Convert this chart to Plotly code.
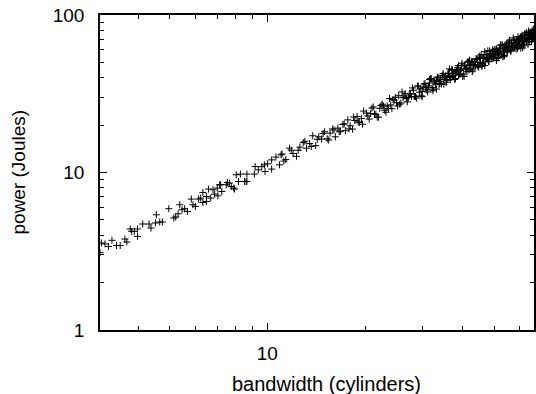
import math
import plotly.graph_objects as go

# ---- data ----
# sparse low-bandwidth points
x_low = [3.05, 3.08, 3.16, 3.24, 3.32, 3.43, 3.52, 3.64, 3.69, 3.78, 3.82, 3.89, 3.98, 3.98,
         4.13, 4.32, 4.38, 4.52, 4.55, 4.66, 4.75, 4.97, 5.15, 5.22, 5.31, 5.37, 5.46, 5.56,
         5.67, 5.83, 5.90]
y_low = [3.10, 3.57, 3.52, 3.39, 3.71, 3.44, 3.44, 3.78, 3.62, 4.38, 4.23, 4.23, 4.38, 3.93,
         4.71, 4.71, 4.44, 4.78, 5.39, 4.85, 4.85, 5.89, 5.14, 5.22, 5.47, 6.24, 5.80, 5.89,
         5.66, 6.78, 6.24]

# mid-range points
x_mid = [6.00, 6.14, 6.23, 6.33, 6.33, 6.49, 6.49, 6.59, 6.69, 6.80, 6.88, 7.01, 7.04, 7.13,
         7.18, 7.24, 7.47, 7.53, 7.64, 7.74, 7.88, 7.92, 8.02, 8.15, 8.26, 8.50, 8.60, 8.65,
         8.65, 9.12, 9.17, 9.38, 9.61, 9.79, 9.84, 10.02, 10.31, 10.31, 10.63, 10.90, 11.02]
y_mid = [6.09, 6.78, 6.88, 7.47, 6.45, 6.55, 7.04, 7.85, 6.88, 7.77, 7.29, 7.96, 7.11, 8.36,
         8.36, 7.58, 8.36, 8.64, 8.57, 8.15, 7.96, 7.85, 9.67, 8.77, 9.77, 8.77, 8.77, 8.77,
         9.77, 9.77, 10.90, 10.40, 10.90, 11.19, 10.15, 11.36, 10.51, 12.03, 12.52, 11.19, 12.95]

# 11 - 20 cylinders
x_a = [11.1, 11.4, 11.7, 12.0, 12.3, 12.6, 12.9, 13.2, 13.5, 13.8, 14.1, 14.4, 14.7, 15.0, 15.3,
       15.6, 15.9, 16.2, 16.5, 16.8, 17.1, 17.4, 17.7, 18.0, 18.3, 18.6, 18.9, 19.2, 19.5, 19.8,
       11.25, 11.85, 12.45, 13.05, 13.65, 14.25, 14.85, 15.45, 16.05, 16.65, 17.25, 17.85,
       18.45, 19.05, 19.65]
y_a = [13.10, 12.08, 14.27, 13.20, 12.67, 14.49, 15.48, 14.26, 15.26, 17.11, 14.81, 16.85,
       16.32, 18.15, 16.37, 17.78, 18.92, 16.85, 19.14, 18.31, 20.18, 18.44, 21.59, 19.80,
       18.85, 21.39, 22.68, 20.74, 22.04, 24.55,
       11.81, 13.86, 13.82, 15.79, 14.61, 16.25, 17.67, 16.07, 18.62, 18.15, 20.36, 18.92,
       22.51, 20.96, 20.24]

# 20 - 68 cylinders (dense band)
x_b = [20.2, 20.6, 21.0, 21.4, 21.8, 22.2, 22.6, 23.0, 23.4, 23.8, 24.2, 24.6, 25.0, 25.4, 25.8,
       26.2, 26.6, 27.0, 27.4, 27.8, 28.2, 28.6, 29.0, 29.4, 29.8, 30.2, 30.6, 31.0, 31.4, 31.8,
       32.2, 32.6, 33.0, 33.4, 33.8, 34.2, 34.6, 35.0, 35.4, 35.8, 36.2, 36.6, 37.0, 37.4, 37.8,
       38.2, 38.6, 39.0, 39.4, 39.8, 40.2, 40.6, 41.0, 41.4, 41.8, 42.2, 42.6, 43.0, 43.4, 43.8,
       44.2, 44.6, 45.0, 45.4, 45.8, 46.2, 46.6, 47.0, 47.4, 47.8, 48.2, 48.6, 49.0, 49.4, 49.8,
       50.2, 50.6, 51.0, 51.4, 51.8, 52.2, 52.6, 53.0, 53.4, 53.8, 54.2, 54.6, 55.0, 55.4, 55.8,
       56.2, 56.6, 57.0, 57.4, 57.8, 58.2, 58.6, 59.0, 59.4, 59.8, 60.2, 60.6, 61.0, 61.4, 61.8,
       62.2, 62.6, 63.0, 63.4, 63.8, 64.2, 64.6, 65.0, 65.4, 65.8, 66.2, 66.6, 67.0, 67.4, 67.8]
y_b = [23.84, 21.84, 25.62, 23.54, 22.45, 25.53, 27.12, 24.84, 26.44, 29.51, 25.41, 28.78,
       27.75, 30.73, 27.61, 29.87, 31.65, 28.08, 31.78, 30.30, 33.28, 30.32, 35.38, 32.34,
       30.69, 34.73, 36.72, 33.48, 35.48, 39.43, 33.81, 38.14, 36.63, 40.41, 36.17, 38.99,
       41.17, 36.40, 41.06, 39.02, 42.72, 38.80, 45.14, 41.14, 38.93, 43.93, 46.32, 42.12,
       44.52, 49.35, 42.21, 47.50, 45.51, 50.09, 44.73, 48.11, 50.69, 44.72, 50.34, 47.74,
       52.16, 47.28, 54.90, 49.94, 47.17, 53.13, 55.92, 50.76, 53.56, 59.27, 50.61, 56.86,
       54.39, 59.77, 53.29, 57.23, 60.21, 53.04, 59.62, 56.46, 61.60, 55.76, 64.66, 58.74,
       55.41, 62.33, 65.52, 59.40, 62.60, 69.19, 59.01, 66.22, 63.27, 69.45, 61.85, 66.35,
       69.73, 61.36, 68.90, 65.18, 71.04, 64.24, 74.42, 67.54, 63.65, 71.53, 75.12, 68.04,
       71.64, 79.11, 67.41, 75.58, 72.15, 79.13, 70.41, 75.47, 79.25, 69.68, 78.18, 73.90]

x_c = [20.4, 21.2, 22.0, 22.8, 23.6, 24.4, 25.2, 26.0, 26.8, 27.6, 28.4, 29.2, 30.0, 30.8, 31.6,
       32.4, 33.2, 34.0, 34.8, 35.6, 36.4, 37.2, 38.0, 38.8, 39.6, 40.4, 41.2, 42.0, 42.8, 43.6,
       44.4, 45.2, 46.0, 46.8, 47.6, 48.4, 49.2, 50.0, 50.8, 51.6, 52.4, 53.2, 54.0, 54.8, 55.6,
       56.4, 57.2, 58.0, 58.8, 59.6, 60.4, 61.2, 62.0, 62.8, 63.6, 64.4, 65.2, 66.0, 66.8, 67.6]
y_c = [22.85, 26.08, 22.44, 26.45, 25.49, 29.04, 26.46, 32.50, 29.48, 31.46, 30.39, 35.33,
       30.30, 34.50, 38.87, 33.05, 38.51, 36.72, 41.41, 37.38, 45.50, 40.92, 43.32, 41.52,
       47.92, 40.80, 46.14, 51.66, 43.66, 50.58, 47.95, 53.79, 48.30, 58.50, 52.36, 55.18,
       52.64, 60.50, 51.31, 57.79, 64.45, 54.26, 62.64, 59.18, 66.16, 59.22, 71.50, 63.80,
       67.03, 63.77, 73.08, 61.81, 69.44, 77.24, 64.87, 74.70, 70.42, 78.54, 70.14, 84.50]

x_d = [30.0, 30.4, 30.8, 31.2, 31.6, 32.0, 32.4, 32.8, 33.2, 33.6, 34.0, 34.4, 34.8, 35.2, 35.6,
       36.0, 36.4, 36.8, 37.2, 37.6, 38.0, 38.4, 38.8, 39.2, 39.6, 40.0, 40.4, 40.8, 41.2, 41.6,
       42.0, 42.4, 42.8, 43.2, 43.6, 44.0, 44.4, 44.8, 45.2, 45.6, 46.0, 46.4, 46.8, 47.2, 47.6,
       48.0, 48.4, 48.8, 49.2, 49.6, 50.0, 50.4, 50.8, 51.2, 51.6, 52.0, 52.4, 52.8, 53.2, 53.6,
       54.0, 54.4, 54.8, 55.2, 55.6, 56.0, 56.4, 56.8, 57.2, 57.6, 58.0, 58.4, 58.8, 59.2, 59.6,
       60.0, 60.4, 60.8, 61.2, 61.6, 62.0, 62.4, 62.8, 63.2, 63.6, 64.0, 64.4, 64.8, 65.2, 65.6,
       66.0, 66.4, 66.8, 67.2, 67.6,
       20.8, 21.6, 22.4, 23.2, 24.0, 24.8, 25.6, 26.4, 27.2, 28.0, 28.8, 29.6]
y_d = [32.70, 36.48, 34.80, 32.45, 36.97, 39.36, 34.67, 37.72, 33.86, 39.98, 37.74, 36.46,
       42.46, 40.13, 38.45, 42.48, 40.77, 40.11, 44.64, 42.49, 39.52, 44.93, 47.72, 41.94,
       45.54, 40.80, 48.08, 45.29, 43.67, 50.75, 47.88, 45.79, 50.50, 48.38, 47.52, 52.80,
       50.17, 46.59, 52.88, 56.09, 49.22, 53.36, 47.74, 56.17, 52.84, 50.88, 59.05, 55.63,
       53.14, 58.53, 56.00, 54.94, 60.96, 57.86, 53.66, 60.84, 64.45, 56.50, 61.18, 54.67,
       64.26, 60.38, 58.09, 67.34, 63.38, 60.48, 66.55, 63.62, 62.35, 69.12, 65.54, 60.74,
       68.80, 72.82, 63.77, 69.00, 61.61, 72.35, 67.93, 65.30, 75.64, 71.14, 67.82, 74.58,
       71.23, 69.76, 77.28, 73.22, 67.81, 76.75, 81.18, 71.05, 76.82, 68.54, 80.44,
       23.71, 23.33, 26.66, 24.13, 26.88, 30.01, 27.14, 30.62, 29.92, 34.44, 29.66, 34.04]

x_vals = x_low + x_mid + x_a + x_b + x_c + x_d
y_vals = y_low + y_mid + y_a + y_b + y_c + y_d

x_ticks = [10]
y_ticks = [1, 10, 100]
x_minor = [4, 5, 6, 7, 8, 9, 20, 30, 40, 50, 60]
y_minor = [2, 3, 4, 5, 6, 7, 8, 9, 20, 30, 40, 50, 60, 70, 80, 90]

x_title = "bandwidth (cylinders)"
y_title = "power (Joules)"

FONT = "Liberation Sans, Arial, Helvetica, sans-serif"

fig = go.Figure()
fig.add_trace(go.Scatter(
    x=x_vals, y=y_vals, mode="markers",
    marker=dict(symbol="cross-thin", size=5, color="black",
                line=dict(width=1, color="black")),
    showlegend=False, hoverinfo="skip"))

axis_common = dict(
    showline=True, linecolor="black", linewidth=1.6, mirror="ticks",
    ticks="inside", ticklen=7, tickwidth=1, tickcolor="black",
    showgrid=False, zeroline=False,
    tickfont=dict(family=FONT, size=19, color="black"),
)

fig.update_xaxes(
    type="log", range=[math.log10(3.05), math.log10(3.05) + 436 / 326],
    tickvals=x_ticks, ticktext=[str(v) for v in x_ticks],
    minor=dict(tickvals=x_minor, ticks="inside", ticklen=4, tickcolor="black", showgrid=False),
    ticklabelstandoff=5,
    **axis_common)
fig.update_yaxes(
    type="log", range=[0, 2],
    tickvals=y_ticks, ticktext=[str(v) for v in y_ticks],
    minor=dict(tickvals=y_minor, ticks="inside", ticklen=4, tickcolor="black", showgrid=False),
    ticklabelstandoff=10,
    **axis_common)

fig.add_annotation(text=x_title, xref="paper", yref="paper", x=0.523, y=0,
                   xanchor="center", yanchor="middle", yshift=-54, showarrow=False,
                   font=dict(family=FONT, size=20, color="black"))
fig.add_annotation(text=y_title, xref="paper", yref="paper", x=0, y=0.5,
                   xanchor="center", yanchor="middle", xshift=-82, textangle=-90,
                   showarrow=False, font=dict(family=FONT, size=19, color="black"))

fig.update_layout(
    width=536, height=394,
    margin=dict(l=100, r=0, t=15, b=64),
    paper_bgcolor="white", plot_bgcolor="white",
    font=dict(family=FONT, color="black"),
)

fig.write_html("out.html")
